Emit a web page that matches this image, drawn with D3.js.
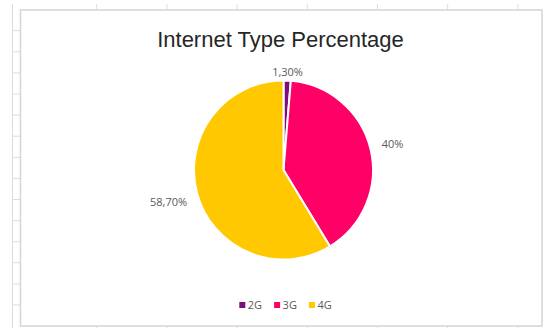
<!DOCTYPE html>
<html>
<head>
<meta charset="utf-8">
<script src="https://cdn.jsdelivr.net/npm/d3@7"></script>
<style>
  html, body { margin: 0; padding: 0; background: #ffffff; }
  svg { display: block; }
</style>
</head>
<body>
<svg id="chart" width="545" height="328"></svg>
<script>
// Internet connection share by network generation
const categories = ["2G", "3G", "4G"];
const shares = [1.3, 40, 58.7];
const shareLabels = ["1,30%", "40%", "58,70%"];
const sliceColors = ["#7d0c7f", "#ff0066", "#ffc800"];
const chartTitle = "Internet Type Percentage";

// spreadsheet grid behind the chart object
const columnEdges = [96.7, 166.9, 237.1, 307.3, 377.5, 447.7, 517.9];
const rowEdges = [30.7, 51.8, 72.9, 94, 115.1, 136.2, 157.3, 178.4, 199.5, 220.6, 241.7, 262.8, 283.9, 305];

const W = 545, H = 328;
const svg = d3.select("#chart");

// ---- sheet background ----
const grid = svg.append("g").attr("stroke", "#dcdcdc").attr("stroke-width", 1);
grid.append("line").attr("x1", 12.5).attr("x2", 12.5).attr("y1", 4).attr("y2", H);
grid.selectAll(".col").data(columnEdges).join("line")
  .attr("x1", d => d).attr("x2", d => d).attr("y1", 4).attr("y2", 10);
grid.selectAll(".colb").data(columnEdges).join("line")
  .attr("x1", d => d).attr("x2", d => d).attr("y1", 326).attr("y2", H);
grid.selectAll(".row").data(rowEdges).join("line")
  .attr("x1", 12.5).attr("x2", 20.5).attr("y1", d => d).attr("y2", d => d);

// ---- chart frame ----
const frame = { x: 20.5, y: 10, w: 521.5, h: 316 };
svg.append("rect")
  .attr("x", frame.x).attr("y", frame.y).attr("width", frame.w).attr("height", frame.h)
  .attr("fill", "#ffffff").attr("stroke", "#d6d6d6").attr("stroke-width", 1.6);

// ---- title ----
svg.append("text")
  .attr("x", 280.5).attr("y", 47)
  .attr("text-anchor", "middle")
  .attr("font-family", "'Liberation Sans', Arial, sans-serif")
  .attr("font-size", 22)
  .attr("fill", "#262626")
  .text(chartTitle);

// ---- pie ----
const cx = 283.5, cy = 170, radius = 89.5;
const data = categories.map((c, i) => ({ cat: c, value: shares[i], label: shareLabels[i], color: sliceColors[i] }));

const pie = d3.pie().value(d => d.value).sort(null);
const arc = d3.arc().innerRadius(0).outerRadius(radius);
const arcs = pie(data);

const g = svg.append("g").attr("transform", `translate(${cx},${cy})`);

g.selectAll("path.slice").data(arcs).join("path")
  .attr("class", "slice")
  .attr("d", arc)
  .attr("fill", d => d.data.color)
  .attr("stroke", "#ffffff")
  .attr("stroke-width", 2)
  .attr("stroke-linejoin", "round");

// data labels outside each slice, pushed out by the label's own extent
const labelFont = "'Open Sans', 'Noto Sans', sans-serif";
g.selectAll("text.val").data(arcs).join("text")
  .attr("class", "val")
  .attr("font-family", labelFont)
  .attr("font-size", 11)
  .attr("fill", "#595959")
  .attr("text-anchor", "middle")
  .text(d => d.data.label)
  .each(function (d) {
    const mid = (d.startAngle + d.endAngle) / 2;
    const s = Math.sin(mid), c = Math.cos(mid);
    const bb = this.getBBox();
    const hw = bb.width / 2, hh = 5;
    const r = radius + 3 + 8 * Math.abs(s) + hw * Math.abs(s) + hh * Math.abs(c);
    d3.select(this)
      .attr("x", r * s)
      .attr("y", -r * c + 4);
  });

// ---- legend ----
const legend = svg.append("g").attr("transform", "translate(0,309)");
let lx = 0;
const items = legend.selectAll("g.item").data(data).join("g").attr("class", "item");
items.append("rect")
  .attr("y", -7).attr("width", 6).attr("height", 6)
  .attr("fill", d => d.color);
items.append("text")
  .attr("x", 8.5)
  .attr("font-family", labelFont)
  .attr("font-size", 11)
  .attr("fill", "#595959")
  .text(d => d.cat);
// lay the items out left to right, centred under the plot
const widths = [];
items.each(function () { widths.push(this.getBBox().width); });
const gap = 12;
const total = d3.sum(widths) + gap * (widths.length - 1);
lx = 285.5 - total / 2;
items.attr("transform", (d, i) => {
  const x = lx;
  lx += widths[i] + gap;
  return `translate(${x},0)`;
});
</script>
</body>
</html>
